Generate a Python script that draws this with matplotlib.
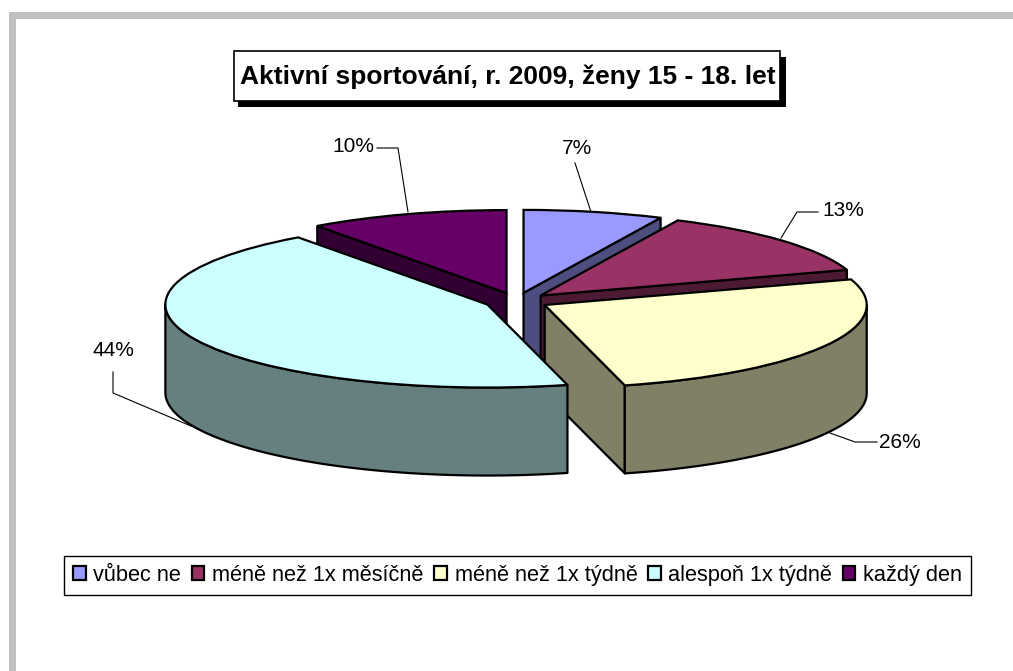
import numpy as np
import matplotlib
matplotlib.use('Agg')
import matplotlib.pyplot as plt
from matplotlib.patches import Rectangle, Polygon

categories = ['vůbec ne', 'méně než 1x měsíčně', 'méně než 1x týdně', 'alespoň 1x týdně', 'každý den']
values = [7, 13, 26, 44, 10]
colors = ['#9999FF', '#993366', '#FFFFCC', '#CCFFFF', '#660066']
wall_colors = ['#4D4D80', '#4D1A33', '#808066', '#668080', '#330033']
title = 'Aktivní sportování, r. 2009, ženy 15 - 18. let'

plt.rcParams['font.family'] = ['Liberation Sans', 'DejaVu Sans']

W, H = 1013, 671
fig = plt.figure(figsize=(W / 100, H / 100), dpi=100, facecolor='white')

# pozadi v pixelech: ramecek, nadpis, popisky
bg = fig.add_axes([0, 0, 1, 1])
bg.set_xlim(0, W)
bg.set_ylim(H, 0)
bg.axis('off')
bg.add_patch(Rectangle((9, 12), 7, H - 12, color='#C0C0C0', lw=0))
bg.add_patch(Rectangle((9, 12), W - 9, 7, color='#C0C0C0', lw=0))

bg.add_patch(Rectangle((238, 57), 548, 50, color='black', lw=0))
bg.add_patch(Rectangle((233.5, 50.5), 546, 50, fc='white', ec='black', lw=1.2))
bg.text(507.5, 77, title, fontsize=19, fontweight='bold', ha='center', va='center')

# kolac: jednotka osy = polomer elipsy
cx, cy, rx, ry = 516.5, 301, 322, 83
depth = 88 / ry
explode = 0.1

ax = fig.add_axes([0, 0, 1, 1], facecolor='none', zorder=2)
wedges, _ = ax.pie(values, colors=colors, startangle=90, counterclock=False,
                   explode=[explode] * len(values),
                   wedgeprops={'edgecolor': 'black', 'linewidth': 1.6})
ax.set_aspect('auto')
ax.set_xlim(-cx / rx, (W - cx) / rx)
ax.set_ylim((cy - H) / ry, cy / ry)
ax.axis('off')

fractions = np.array(values) / sum(values)
ends = np.cumsum(fractions) * 2 * np.pi
starts = ends - fractions * 2 * np.pi
draw_order = {4: 1, 0: 2, 1: 3, 2: 4, 3: 5}


def wall(points, color, z):
    ax.add_patch(Polygon(points, closed=True, fc=color, ec='black', lw=1.6, zorder=z, joinstyle='round'))


for i, (t1, t2) in enumerate(zip(starts, ends)):
    z = draw_order[i] * 10
    mid = (t1 + t2) / 2
    tip = np.array([explode * np.sin(mid), explode * np.cos(mid)])
    down = np.array([0, -depth])

    # bocni steny rezu, jen ty co jsou videt
    for t, visible in ((t1, np.sin(t1) < -1e-6), (t2, np.sin(t2) > 1e-6)):
        if visible:
            rim = tip + np.array([np.sin(t), np.cos(t)])
            wall([tip, rim, rim + down, tip + down], wall_colors[i], z)

    # vnejsi stena, jen predni pulka
    a = max(t1, np.pi / 2)
    b = min(t2, 3 * np.pi / 2)
    if b > a:
        th = np.linspace(a, b, 80)
        top = np.column_stack([tip[0] + np.sin(th), tip[1] + np.cos(th)])
        wall(np.vstack([top, (top + down)[::-1]]), wall_colors[i], z + 1)

    wedges[i].set_zorder(z + 2)

# popisky s vodicimi carami
bg.text(577, 149, f'{values[0]}%', fontsize=15, ha='center', va='center')
bg.text(843, 211, f'{values[1]}%', fontsize=15, ha='center', va='center')
bg.text(900, 442, f'{values[2]}%', fontsize=15, ha='center', va='center')
bg.text(113, 351, f'{values[3]}%', fontsize=15, ha='center', va='center')
bg.text(353, 147, f'{values[4]}%', fontsize=15, ha='center', va='center')
bg.plot([575, 591], [163, 212], color='black', lw=0.8)
bg.plot([781, 797, 818], [238, 212, 212], color='black', lw=0.8)
bg.plot([830, 855, 877], [433, 442, 442], color='black', lw=0.8)
bg.plot([113, 113, 198], [372, 393, 429], color='black', lw=0.8)
bg.plot([377, 398, 408], [148, 148, 212], color='black', lw=0.8)

leg = bg.legend(wedges, categories, ncol=5, loc='center', bbox_to_anchor=(517.5, 575.5),
                bbox_transform=bg.transData, fontsize=15.7, frameon=True, fancybox=False,
                edgecolor='black', framealpha=1, handlelength=0.59, handleheight=0.59,
                handletextpad=0.36, columnspacing=0.47, borderpad=0.42, borderaxespad=0)
leg.get_frame().set_linewidth(1)

fig.savefig('out.png', dpi=100)
